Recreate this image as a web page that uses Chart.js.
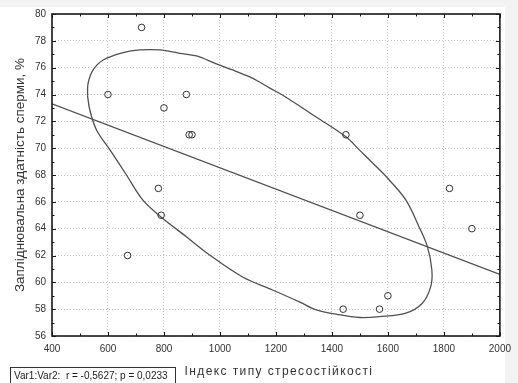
<!DOCTYPE html>
<html>
<head>
<meta charset="utf-8">
<script src="https://cdn.jsdelivr.net/npm/chart.js@4/dist/chart.umd.min.js"></script>
<style>
  body { margin: 0; background: #ffffff; }
  #wrap { width: 518px; height: 383px; position: relative; }
</style>
</head>
<body>
<div id="wrap"><canvas id="chart"></canvas></div>
<script>
// Подписи делений осей
const xTickValues = [400, 600, 800, 1000, 1200, 1400, 1600, 1800, 2000];
const yTickValues = [56, 58, 60, 62, 64, 66, 68, 70, 72, 74, 76, 78, 80];

// Индекс типа стрессоустойчивости и оплодотворяющая способность (точки)
const stressIndex = [600, 720, 800, 880, 890, 900, 780, 790, 670, 1450, 1500, 1820, 1900, 1440, 1570, 1600];
const fertility   = [74, 79, 73, 74, 71, 71, 67, 65, 62, 71, 65, 67, 64, 58, 58, 59];

// Линия регрессии (концы)
const regressionX = [400, 2000];
const regressionY = [73.3, 60.6];

// Эллипс (точки контура)
const ellipseX = [527, 529, 547, 583, 654, 714, 785, 856, 916, 985, 1045, 1106, 1141, 1177, 1223, 1344, 1451, 1498, 1560, 1605, 1664, 1711, 1741, 1757, 1753, 1723, 1664, 1569, 1500, 1420, 1344, 1284, 1188, 1081, 963, 881, 785, 724, 666, 607, 559, 535, 527];
const ellipseY = [73.9, 74.84, 75.83, 76.57, 77.12, 77.32, 77.32, 77.07, 76.87, 76.3, 75.83, 75.31, 74.93, 74.49, 73.96, 72.32, 70.83, 69.87, 68.6, 67.63, 66.14, 64.15, 62.66, 60.92, 59.68, 58.44, 57.70, 57.44, 57.38, 57.6, 57.94, 58.54, 59.43, 60.40, 62.04, 63.38, 64.95, 66.14, 68.0, 69.87, 71.36, 72.85, 73.9];

const statsText = 'Var1:Var2:  r = -0,5627; p = 0,0233';
const xTitle = 'Індекс типу стресостійкості';

const toPoints = (xs, ys) => xs.map((v, i) => ({ x: v, y: ys[i] }));

const lineColor = '#505050';
const fontFamily = '"Liberation Sans", Arial, sans-serif';

// Фон: светло-серая полоса сверху и справа
const background = {
    id: 'background',
    beforeDraw(chart) {
        const { ctx, width, height } = chart;
        ctx.save();
        ctx.fillStyle = '#f3f3f3';
        ctx.fillRect(0, 0, width, height);
        ctx.fillStyle = '#ffffff';
        ctx.fillRect(0, 7, 505, height - 7);
        ctx.restore();
    }
};

// Рамка, засечки внутрь, подпись оси X и подпись со статистикой
const frameAndTicks = {
    id: 'frameAndTicks',
    afterDraw(chart) {
        const { ctx, chartArea: a, scales: { x, y } } = chart;
        ctx.save();
        ctx.strokeStyle = '#1a1a1a';
        ctx.lineWidth = 1;
        ctx.beginPath();
        const xStep = (xTickValues[1] - xTickValues[0]) / 2;
        for (let v = xTickValues[0]; v <= xTickValues[xTickValues.length - 1]; v += xStep) {
            const px = Math.round(x.getPixelForValue(v)) + 0.5;
            const len = (v - xTickValues[0]) % (2 * xStep) === 0 ? 4 : 2.5;
            ctx.moveTo(px, a.bottom); ctx.lineTo(px, a.bottom - len);
            ctx.moveTo(px, a.top); ctx.lineTo(px, a.top + len);
        }
        const yStep = (yTickValues[1] - yTickValues[0]) / 2;
        for (let v = yTickValues[0]; v <= yTickValues[yTickValues.length - 1]; v += yStep) {
            const py = Math.round(y.getPixelForValue(v)) + 0.5;
            const len = (v - yTickValues[0]) % (2 * yStep) === 0 ? 4 : 2.5;
            ctx.moveTo(a.left, py); ctx.lineTo(a.left + len, py);
            ctx.moveTo(a.right, py); ctx.lineTo(a.right - len, py);
        }
        ctx.stroke();

        ctx.lineWidth = 1.6;
        ctx.strokeRect(a.left, a.top, a.right - a.left, a.bottom - a.top);

        // Подпись оси X (с разрядкой, как в оригинале)
        ctx.fillStyle = '#333';
        ctx.font = '12px ' + fontFamily;
        ctx.letterSpacing = '1.4px';
        ctx.textAlign = 'center';
        ctx.textBaseline = 'middle';
        ctx.fillText(xTitle, (a.left + a.right) / 2 + 3, 372);
        ctx.letterSpacing = '0px';

        // Рамочка с коэффициентом корреляции
        ctx.lineWidth = 1;
        ctx.strokeStyle = '#333';
        ctx.strokeRect(10.5, 367.5, 165, 20);
        ctx.fillStyle = '#222';
        ctx.font = '10px ' + fontFamily;
        ctx.textAlign = 'left';
        ctx.fillText(statsText, 14, 376);
        ctx.restore();
    }
};

new Chart(document.getElementById('chart'), {
    type: 'scatter',
    data: {
        datasets: [
            {
                label: 'points',
                data: toPoints(stressIndex, fertility),
                pointStyle: 'circle',
                pointRadius: 3.3,
                pointBorderWidth: 1,
                borderColor: '#333',
                backgroundColor: 'rgba(255,255,255,0)'
            },
            {
                label: 'regression',
                type: 'line',
                data: toPoints(regressionX, regressionY),
                borderColor: lineColor,
                borderWidth: 1.3,
                pointRadius: 0,
                fill: false
            },
            {
                label: 'ellipse',
                type: 'line',
                data: toPoints(ellipseX, ellipseY),
                borderColor: lineColor,
                borderWidth: 1.3,
                pointRadius: 0,
                tension: 0.35,
                fill: false
            }
        ]
    },
    options: {
        responsive: true,
        maintainAspectRatio: false,
        devicePixelRatio: 1,
        animation: false,
        layout: { padding: { left: 0, top: 14, right: 17, bottom: 0 } },
        plugins: {
            legend: { display: false },
            tooltip: { enabled: false }
        },
        scales: {
            x: {
                type: 'linear',
                min: 400,
                max: 2000,
                afterBuildTicks: s => { s.ticks = xTickValues.map(v => ({ value: v })); },
                afterFit: s => { s.height = 47; },
                grid: { color: '#c4c4c4', drawTicks: false },
                border: { display: false, dash: [1, 2] },
                ticks: {
                    padding: 7,
                    color: '#333',
                    font: { family: fontFamily, size: 10 },
                    callback: v => String(v)
                }
            },
            y: {
                type: 'linear',
                min: 56,
                max: 80,
                afterBuildTicks: s => { s.ticks = yTickValues.map(v => ({ value: v })); },
                afterFit: s => { s.width = 52; },
                grid: { color: '#c4c4c4', drawTicks: false },
                border: { display: false, dash: [1, 2] },
                ticks: {
                    padding: 6,
                    color: '#333',
                    font: { family: fontFamily, size: 10 },
                    callback: v => String(v)
                },
                title: {
                    display: true,
                    text: 'Запліднювальна здатність сперми, %',
                    color: '#333',
                    font: { family: fontFamily, size: 13.5 },
                    padding: { top: 12, bottom: 0 }
                }
            }
        }
    },
    plugins: [background, frameAndTicks]
});
</script>
</body>
</html>
